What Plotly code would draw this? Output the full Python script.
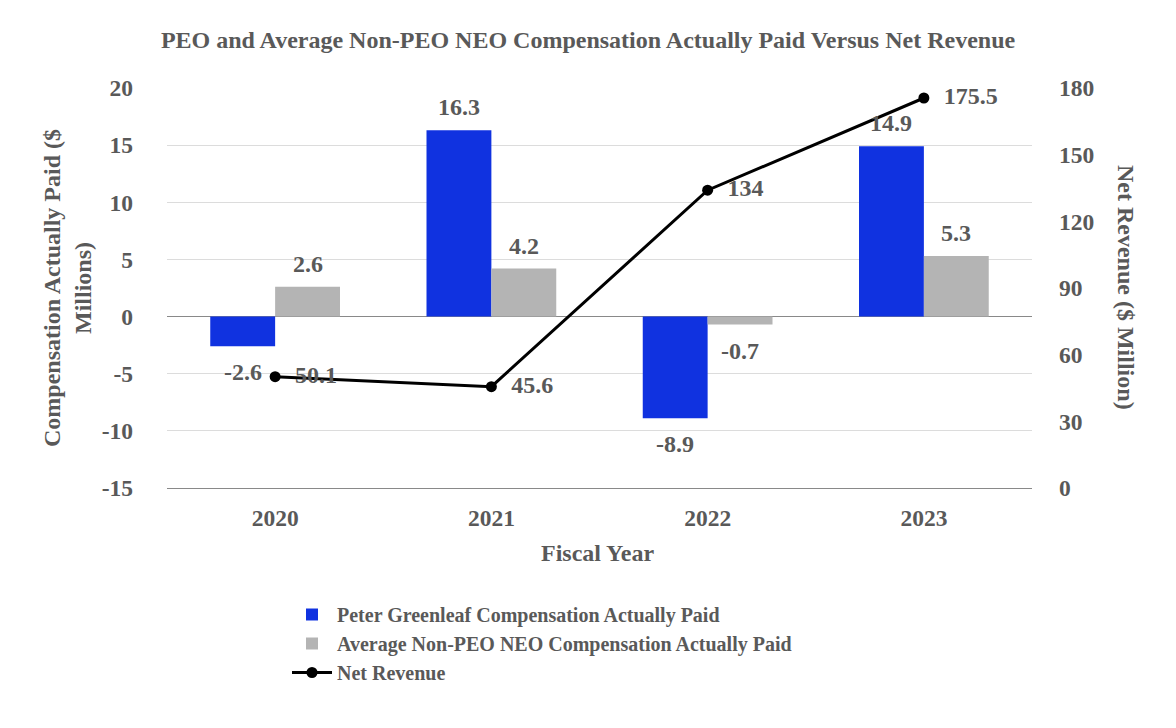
import plotly.graph_objects as go

years = ["2020", "2021", "2022", "2023"]
peo_cap = [-2.6, 16.3, -8.9, 14.9]
non_peo_cap = [2.6, 4.2, -0.7, 5.3]
net_revenue = [50.1, 45.6, 134, 175.5]
left_ticks = [-15, -10, -5, 0, 5, 10, 15, 20]
right_ticks = [0, 30, 60, 90, 120, 150, 180]

FONT = "Liberation Serif, Times New Roman, serif"
TXT = "#595959"
BLUE = "#1032E0"
GRAY = "#B4B4B4"
BARGAP = 0.4

# plot area (screen pixels) used to place paper-relative text
PL, PR, PT, PB = 167, 1032, 88, 488
PW, PH = PR - PL, PB - PT

def lbl(v):
    return f"<b>{v:g}</b>"

fig = go.Figure()
fig.add_trace(go.Bar(
    x=years, y=peo_cap, name="<b>Peter Greenleaf Compensation Actually Paid</b>",
    marker=dict(color=BLUE, line=dict(width=0)),
))
fig.add_trace(go.Bar(
    x=years, y=non_peo_cap, name="<b>Average Non-PEO NEO Compensation Actually Paid</b>",
    marker=dict(color=GRAY, line=dict(width=0)),
))
fig.add_trace(go.Scatter(
    x=years, y=net_revenue, name="<b>Net Revenue</b>", yaxis="y2",
    mode="lines+markers+text",
    line=dict(color="black", width=3), marker=dict(color="black", size=11),
    text=["\u00a0\u00a0" + lbl(v) for v in net_revenue], textposition="middle right",
    textfont=dict(family=FONT, size=24, color=TXT), cliponaxis=False,
))

# bar value labels, placed at the bar ends of each group
annots = []
half = (1 - BARGAP) / 4
for series, off in ((peo_cap, -half), (non_peo_cap, half)):
    for i, v in enumerate(series):
        annots.append(dict(
            x=i + off, y=v, xref="x", yref="y", text=lbl(v), showarrow=False,
            yshift=23 if v >= 0 else -26, xanchor="center", yanchor="middle",
            font=dict(family=FONT, size=24, color=TXT)))

annots += [
    dict(text="<b>Compensation Actually Paid ($<br>Millions)</b>", textangle=-90,
         xref="paper", yref="paper", x=(67-PL)/PW, y=(PB-288)/PH,
         xanchor="center", yanchor="middle", showarrow=False,
         font=dict(family=FONT, size=24, color=TXT)),
    dict(text="<b>Net Revenue ($ Million)</b>", textangle=90,
         xref="paper", yref="paper", x=(1126-PL)/PW, y=(PB-287)/PH,
         xanchor="center", yanchor="middle", showarrow=False,
         font=dict(family=FONT, size=24, color=TXT)),
    dict(text="<b>Fiscal Year</b>", xref="paper", yref="paper",
         x=(597-PL)/PW, y=(PB-553)/PH, xanchor="center", yanchor="middle",
         showarrow=False, font=dict(family=FONT, size=24, color=TXT)),
]

fig.update_layout(
    width=1176, height=728,
    margin=dict(l=PL-8, r=1176-(PR-8), t=PT-8, b=728-(PB-8)),
    paper_bgcolor="white", plot_bgcolor="white",
    font=dict(family=FONT, color=TXT),
    barmode="group", bargap=BARGAP, bargroupgap=0,
    title=dict(text="<b>PEO and Average Non-PEO NEO Compensation Actually Paid Versus Net Revenue</b>",
               x=(588-8)/1176, xanchor="center", y=1-(40-8)/728, yanchor="middle",
               font=dict(family=FONT, size=24, color=TXT)),
    xaxis=dict(showline=True, linecolor="#898989", linewidth=1, ticks="",
               tickfont=dict(family=FONT, size=23.5, color=TXT), ticklabelstandoff=9,
               tickvals=years, ticktext=[f"<b>{y}</b>" for y in years]),
    yaxis=dict(range=[-15, 20], showgrid=True, gridcolor="#DCDCDC", gridwidth=1,
               zeroline=True, zerolinecolor="#898989", zerolinewidth=1,
               tickvals=left_ticks, ticktext=[f"<b>{t}</b>" for t in left_ticks],
               tickfont=dict(family=FONT, size=23.5, color=TXT), ticklabelstandoff=33),
    yaxis2=dict(range=[0, 180], overlaying="y", side="right", showgrid=False,
                zeroline=False, tickvals=right_ticks,
                ticktext=[f"<b>{t}</b>" for t in right_ticks],
                tickfont=dict(family=FONT, size=23.5, color=TXT), ticklabelstandoff=26),
    legend=dict(orientation="v", x=(287-PL)/PW, xanchor="left", y=-0.2675, yanchor="top",
                font=dict(family=FONT, size=20, color=TXT), bgcolor="rgba(0,0,0,0)",
                traceorder="normal", itemwidth=40),
    showlegend=True,
    annotations=annots,
)

fig.write_html("out.html")
